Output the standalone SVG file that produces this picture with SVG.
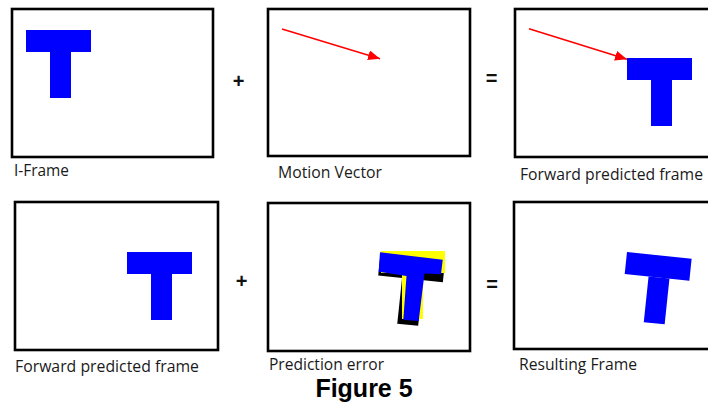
<svg xmlns="http://www.w3.org/2000/svg" width="708" height="412" viewBox="0 0 708 412">
<style>
.frame{fill:#fff;stroke:#000;stroke-width:2.6}
.blue{fill:#0000ff}
.yellow{fill:#ffff00}
.black{fill:#000}
.lbl{font-family:"Open Sans","Noto Sans",sans-serif;font-size:15.5px;fill:#1a1a1a}
.op{font-family:"Liberation Sans",Arial,sans-serif;font-size:20px;font-weight:bold;fill:#111;text-anchor:middle}
.title{font-family:"Liberation Sans",Arial,sans-serif;font-size:25px;font-weight:bold;fill:#000;text-anchor:middle}
.mv{stroke:#ff0000;stroke-width:1.6;fill:none}
</style>
<defs>
<marker id="ah" markerUnits="userSpaceOnUse" markerWidth="14" markerHeight="12" refX="12" refY="5" orient="auto">
<path d="M0,0 L12,5 L0,10 z" fill="#ff0000"/>
</marker>
<g id="tshape">
<rect x="0" y="0" width="65" height="22"/>
<rect x="24" y="22" width="21" height="46"/>
</g>
</defs>
<rect width="708" height="412" fill="#fff"/>

<g id="iframe">
<rect class="frame" x="12" y="9" width="201" height="148"/>
<use href="#tshape" class="blue" x="26" y="30"/>
<text class="lbl" x="14" y="176" textLength="55" lengthAdjust="spacingAndGlyphs">I-Frame</text>
</g>

<g id="motion-vector">
<rect class="frame" x="268" y="9" width="202" height="147"/>
<text class="lbl" x="278" y="178" textLength="104" lengthAdjust="spacingAndGlyphs">Motion Vector</text>
</g>

<g id="forward-predicted-top">
<rect class="frame" x="515" y="9" width="200" height="148"/>
<use href="#tshape" class="blue" x="627" y="58"/>
<text class="lbl" x="520" y="180" textLength="183" lengthAdjust="spacingAndGlyphs">Forward predicted frame</text>
</g>

<g id="forward-predicted-bottom">
<rect class="frame" x="15" y="202" width="203" height="148"/>
<use href="#tshape" class="blue" x="127" y="252"/>
<text class="lbl" x="15" y="372" textLength="184" lengthAdjust="spacingAndGlyphs">Forward predicted frame</text>
</g>

<g id="prediction-error">
<rect class="frame" x="268" y="203" width="202" height="148"/>
<use href="#tshape" class="black" transform="translate(380.5,253.5) rotate(6)"/>
<path class="yellow" d="M381,251 H445 V273 H423 V319 H402 V273 H381 Z"/>
<path class="blue" d="M380,252.3 L442.7,259.7 L441,274.3 L424.5,273.5 L418.7,321 L403.3,319.7 L406.5,276 L378.7,271.7 Z"/>
<text class="lbl" x="269" y="370" textLength="115" lengthAdjust="spacingAndGlyphs">Prediction error</text>
</g>

<g id="resulting-frame">
<rect class="frame" x="514" y="202" width="200" height="147"/>
<use href="#tshape" class="blue" transform="translate(627,252) rotate(6)"/>
<text class="lbl" x="519" y="370" textLength="118" lengthAdjust="spacingAndGlyphs">Resulting Frame</text>
</g>

<g id="connectors">
<line class="mv" x1="282" y1="29" x2="380" y2="58.7" marker-end="url(#ah)"/>
<line class="mv" x1="529" y1="28.7" x2="627" y2="59.3" marker-end="url(#ah)"/>
</g>

<g id="operators">
<text class="op" x="238.5" y="87.5">+</text>
<text class="op" x="491.5" y="84.5">=</text>
<text class="op" x="241.5" y="288">+</text>
<text class="op" x="492" y="291">=</text>
</g>

<text class="title" x="364" y="397">Figure 5</text>
</svg>
